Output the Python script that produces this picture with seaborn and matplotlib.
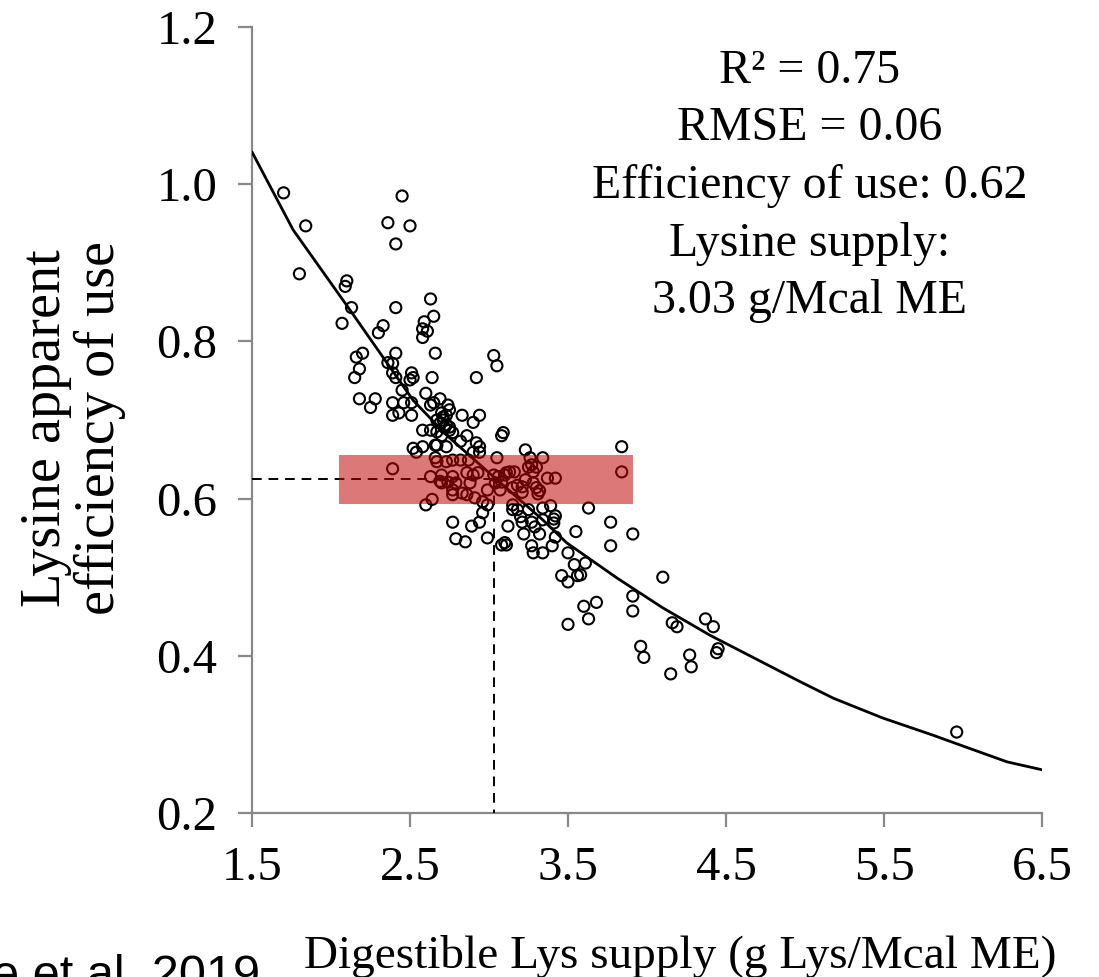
import numpy as np
import pandas as pd
import matplotlib
matplotlib.use("Agg")
import matplotlib.pyplot as plt
from matplotlib.patches import Rectangle
import seaborn as sns

# ---------------- data ----------------
lys_supply = [
    1.70, 2.45, 2.36, 2.50, 1.84, 2.41, 1.80, 2.10, 2.09, 2.13,
    2.41, 2.63, 2.65, 2.07, 2.33, 2.30, 2.59, 2.58, 2.61, 2.58,
    2.20, 2.16, 2.41, 2.66, 2.18, 2.15, 2.36, 2.39, 2.39, 2.41,
    2.51, 2.52, 2.50, 2.64, 2.45, 2.60, 2.92, 3.03, 3.05, 2.18,
    2.28, 2.25, 2.39, 2.46, 2.51, 2.39, 2.43, 2.51, 2.65, 2.69,
    2.63, 2.74, 2.75, 2.70, 2.71, 2.67, 2.69, 2.73, 2.75, 2.83,
    2.90, 2.94, 2.58, 2.63, 2.67, 2.70, 2.75, 2.77, 2.86, 2.82,
    2.92, 2.94, 3.09, 3.08, 2.52, 2.54, 2.58, 2.67, 2.73, 2.66,
    2.90, 2.94, 3.05, 2.39, 2.66, 2.67, 2.73, 2.77, 2.82, 2.87,
    2.63, 2.70, 2.77, 2.69, 2.70, 2.74, 2.79, 2.86, 2.90, 2.93,
    2.88, 3.03, 3.06, 3.08, 3.11, 3.04, 2.99, 2.77, 2.77, 2.83,
    2.86, 2.91, 2.96, 2.99, 2.64, 2.60, 2.96, 2.77, 2.89, 2.94,
    2.79, 2.85, 2.99, 3.08, 3.11, 3.23, 3.84, 3.26, 3.34, 3.27,
    3.30, 3.25, 3.13, 3.16, 3.10, 3.28, 3.84, 3.23, 3.28, 3.37,
    3.42, 3.18, 3.15, 3.21, 3.21, 3.30, 3.32, 3.31, 3.07, 3.15,
    3.15, 3.18, 3.25, 3.34, 3.39, 3.63, 3.20, 3.21, 3.27, 3.34,
    3.42, 3.41, 3.41, 3.77, 3.12, 3.29, 3.22, 3.32, 3.55, 3.91,
    3.42, 3.10, 3.27, 3.40, 3.77, 3.28, 3.34, 3.50, 3.54, 3.61,
    3.46, 3.50, 3.56, 3.58, 4.10, 3.91, 3.91, 3.60, 3.68, 3.63,
    3.50, 4.16, 4.19, 4.37, 4.42, 3.96, 3.98, 4.27, 4.28, 4.15,
    4.45, 4.44, 5.96, 2.71, 2.73, 2.72,
]
efficiency = [
    0.989, 0.985, 0.951, 0.947, 0.947, 0.924, 0.886, 0.877, 0.870, 0.843,
    0.843, 0.854, 0.832, 0.823, 0.820, 0.811, 0.825, 0.816, 0.813, 0.805,
    0.785, 0.780, 0.785, 0.785, 0.765, 0.754, 0.773, 0.772, 0.760, 0.754,
    0.760, 0.754, 0.751, 0.754, 0.738, 0.734, 0.754, 0.782, 0.769, 0.727,
    0.727, 0.716, 0.722, 0.722, 0.722, 0.706, 0.709, 0.706, 0.722, 0.727,
    0.719, 0.719, 0.713, 0.709, 0.704, 0.700, 0.696, 0.694, 0.691, 0.706,
    0.697, 0.706, 0.687, 0.687, 0.685, 0.680, 0.687, 0.684, 0.680, 0.673,
    0.671, 0.666, 0.684, 0.680, 0.664, 0.659, 0.666, 0.668, 0.666, 0.668,
    0.659, 0.659, 0.652, 0.638, 0.652, 0.647, 0.647, 0.649, 0.649, 0.649,
    0.628, 0.630, 0.628, 0.622, 0.620, 0.621, 0.620, 0.633, 0.630, 0.633,
    0.620, 0.630, 0.628, 0.621, 0.633, 0.620, 0.611, 0.611, 0.605, 0.607,
    0.605, 0.601, 0.596, 0.592, 0.599, 0.592, 0.582, 0.570, 0.565, 0.570,
    0.549, 0.545, 0.550, 0.541, 0.541, 0.662, 0.666, 0.652, 0.652, 0.643,
    0.640, 0.640, 0.634, 0.634, 0.630, 0.634, 0.634, 0.624, 0.620, 0.626,
    0.626, 0.617, 0.614, 0.615, 0.608, 0.614, 0.610, 0.606, 0.611, 0.592,
    0.586, 0.586, 0.586, 0.588, 0.591, 0.588, 0.577, 0.570, 0.570, 0.573,
    0.578, 0.574, 0.569, 0.570, 0.565, 0.564, 0.555, 0.555, 0.558, 0.555,
    0.551, 0.544, 0.540, 0.540, 0.540, 0.531, 0.531, 0.531, 0.516, 0.518,
    0.502, 0.494, 0.502, 0.503, 0.500, 0.476, 0.457, 0.463, 0.468, 0.447,
    0.440, 0.442, 0.437, 0.447, 0.437, 0.412, 0.398, 0.401, 0.386, 0.377,
    0.409, 0.404, 0.303, 0.700, 0.706, 0.690,
]

fit_x = [1.50, 1.76, 2.12, 2.52, 2.73, 3.05, 3.34, 3.49, 3.81, 4.10,
         4.40, 4.97, 5.18, 5.49, 5.81, 6.03, 6.28, 6.50]
fit_y = [1.041, 0.942, 0.840, 0.725, 0.681, 0.624, 0.573, 0.544, 0.499, 0.461,
         0.426, 0.367, 0.346, 0.321, 0.299, 0.283, 0.265, 0.255]

optimum_x = 3.03
optimum_y = 0.625
box_x = [2.05, 3.91]
box_y = [0.593, 0.655]

x_ticks = [1.5, 2.5, 3.5, 4.5, 5.5, 6.5]
y_ticks = [0.2, 0.4, 0.6, 0.8, 1.0, 1.2]

annotation = "R\u00b2 = 0.75\nRMSE = 0.06\nEfficiency of use: 0.62\nLysine supply:\n3.03 g/Mcal ME"
x_label = "Digestible Lys supply (g Lys/Mcal ME)"
y_label = "Lysine apparent\nefficiency of use"
source = "e et al. 2019"

# ---------------- style ----------------
sns.set_theme(style="white")
plt.rcParams["font.family"] = ["Liberation Serif", "DejaVu Serif"]
plt.rcParams["text.color"] = "black"

fig = plt.figure(figsize=(10.99, 9.77), dpi=100)
ax = fig.add_axes([252 / 1099, 1 - 813 / 977, (1042 - 252) / 1099, (813 - 27) / 977])

df = pd.DataFrame({"supply": lys_supply, "eff": efficiency})
sns.scatterplot(data=df, x="supply", y="eff", ax=ax, marker="o", s=64,
                color="black", linewidth=1.5, zorder=3, legend=False)
for coll in ax.collections:
    coll.set_facecolor("none")
    coll.set_edgecolor("black")

fit_df = pd.DataFrame({"x": fit_x, "y": fit_y})
sns.lineplot(data=fit_df, x="x", y="y", ax=ax, color="black", linewidth=2.0,
             sort=False, zorder=4)

ax.plot([x_ticks[0], optimum_x], [optimum_y, optimum_y], color="black",
        linewidth=1.4, linestyle=(0, (5, 3.5)), zorder=4)
ax.plot([optimum_x, optimum_x], [optimum_y, y_ticks[0]], color="black",
        linewidth=1.4, linestyle=(0, (5, 3.5)), zorder=4)

ax.add_patch(Rectangle((box_x[0], box_y[0]), box_x[1] - box_x[0], box_y[1] - box_y[0],
                       facecolor="#BD0000", alpha=0.53, edgecolor="none", zorder=6))

ax.set_xlim(x_ticks[0], x_ticks[-1])
ax.set_ylim(y_ticks[0], y_ticks[-1])
ax.set_xticks(x_ticks)
ax.set_yticks(y_ticks)
ax.set_xticklabels([f"{v:.1f}" for v in x_ticks])
ax.set_yticklabels([f"{v:.1f}" for v in y_ticks])
ax.set_xlabel("")
ax.set_ylabel("")

for side in ["top", "right"]:
    ax.spines[side].set_visible(False)
for side in ["left", "bottom"]:
    ax.spines[side].set_color("#888888")
    ax.spines[side].set_linewidth(1.6)
ax.tick_params(axis="both", direction="out", length=10, width=1.6, color="#888888",
               labelsize=35, labelcolor="black", bottom=True, left=True)
ax.tick_params(axis="x", pad=14)
ax.tick_params(axis="y", pad=15)
ax.grid(False)

fig.text(810 / 1099, 1 - 186 / 977, annotation, ha="center", va="center",
         fontsize=34.5, linespacing=1.4, multialignment="center", color="black")
fig.text(73 / 1099, 1 - 428 / 977, y_label, ha="center", va="center", rotation=90,
         fontsize=40.5, linespacing=1.02, multialignment="center", color="black")
fig.text(680 / 1099, 1 - 956 / 977, x_label, ha="center", va="center", fontsize=34,
         color="black")
fig.text(-8 / 1099, 1 - 989 / 977, source, ha="left", va="baseline", fontsize=35,
         family=["Liberation Sans", "DejaVu Sans"], color="black")

fig.savefig("out.png", dpi=100)
